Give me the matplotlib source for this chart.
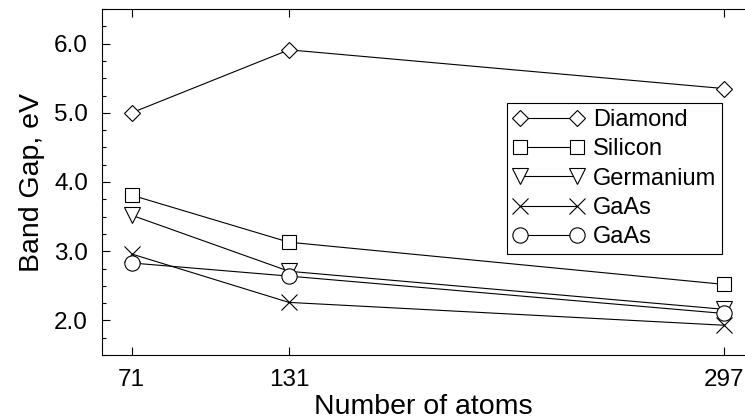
import matplotlib.pyplot as plt
from matplotlib.ticker import MultipleLocator, FormatStrFormatter

plt.rcParams['font.family'] = ['Liberation Sans', 'DejaVu Sans']

# atoms in the cluster
atoms = [71, 131, 297]

# band gaps (eV)
diamond = [5.00, 5.91, 5.35]
silicon = [3.81, 3.13, 2.52]
germanium = [3.52, 2.71, 2.16]
gaas_x = [2.96, 2.26, 1.93]
gaas_o = [2.83, 2.64, 2.10]

labels = ['Diamond', 'Silicon', 'Germanium', 'GaAs', 'GaAs']
series = [diamond, silicon, germanium, gaas_x, gaas_o]
markers = ['D', 's', 'v', 'x', 'o']
sizes = [8.2, 10, 11.2, 12, 11]

fig = plt.figure(figsize=(7.45, 4.2), dpi=100)
ax = fig.add_axes([102 / 745, 1 - 355 / 420, 1 - 102 / 745, 346 / 420])

for ys, lab, m, ms in zip(series, labels, markers, sizes):
    ax.plot(atoms, ys, color='black', lw=0.8, marker=m, ms=ms,
            mfc='white', mec='black', mew=0.8, label=lab)

ax.set_xlim(59.7, 304.9)
ax.set_ylim(1.5, 6.5)
ax.set_xticks(atoms)
ax.yaxis.set_major_locator(MultipleLocator(1.0))
ax.yaxis.set_minor_locator(MultipleLocator(0.25))
ax.yaxis.set_major_formatter(FormatStrFormatter('%.1f'))

ax.tick_params(which='both', direction='in', top=True, right=False,
               labelsize=17.5, pad=10, width=0.8)
ax.tick_params(which='major', length=5.5)
ax.tick_params(which='minor', length=3)
ax.spines['right'].set_visible(False)
for s in ['left', 'top', 'bottom']:
    ax.spines[s].set_linewidth(0.8)

ax.set_xlabel('Number of atoms', fontsize=20.5, labelpad=2.5)
ax.set_ylabel('Band Gap, eV', fontsize=20.5, labelpad=7)

leg = ax.legend(loc='upper right', bbox_to_anchor=(0.964, 0.728),
                borderaxespad=0, fontsize=17, handlelength=3.0,
                handletextpad=0.38, labelspacing=0.31, borderpad=0.25,
                fancybox=False, framealpha=1, edgecolor='black', numpoints=2)
leg.get_frame().set_linewidth(0.8)

fig.savefig('out.png', dpi=100)
